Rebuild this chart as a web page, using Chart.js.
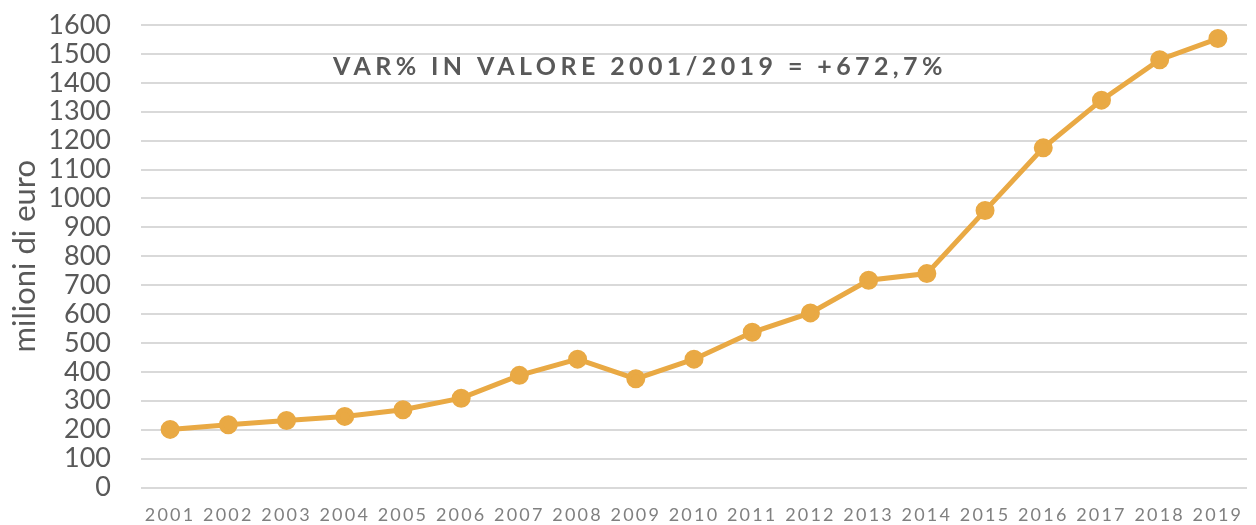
<!DOCTYPE html>
<html><head><meta charset="utf-8">
<script src="https://cdn.jsdelivr.net/npm/chart.js@4/dist/chart.umd.min.js"></script>
<style>
html,body{margin:0;padding:0;background:#fff;overflow:hidden;}
#wrap{width:1259px;height:525px;position:relative;}
</style></head>
<body><div id="wrap"><canvas id="c"></canvas></div>
<script>
const years = ['2001','2002','2003','2004','2005','2006','2007','2008','2009','2010','2011','2012','2013','2014','2015','2016','2017','2018','2019'];
const valori = [201,217,232,246,269,309,388,444,376,444,537,604,717,740,958,1175,1340,1480,1553];
const yTicks = {min:0, max:1600, step:100};
const yTitle = 'milioni di euro';
const annotationText = 'VAR% IN VALORE 2001/2019 = +672,7%';

const letterSpacingPlugin = {
  id:'ls',
  afterDatasetsDraw(chart){ chart.ctx.letterSpacing = '2.2px'; },
  afterDraw(chart){
    const ctx = chart.ctx;
    ctx.save();
    ctx.letterSpacing = '4.4px';
    ctx.font = 'bold 25px Lato';
    ctx.fillStyle = '#595959';
    ctx.textAlign = 'center';
    ctx.textBaseline = 'middle';
    const ca = chart.chartArea;
    ctx.fillText(annotationText, ca.left + 499, ca.top + 42);
    ctx.restore();
    ctx.letterSpacing = '0px';
  }
};

new Chart(document.getElementById('c'), {
  type:'line',
  data:{labels:years, datasets:[{
    data:valori, borderColor:'#E9A944', backgroundColor:'#E9A944',
    borderWidth:5, pointRadius:7, pointHoverRadius:7, tension:0
  }]},
  options:{
    responsive:true, maintainAspectRatio:false, animation:false,
    layout:{padding:{top:25,bottom:0,left:0,right:0}},
    plugins:{legend:{display:false}, tooltip:{enabled:false}},
    scales:{
      x:{offset:true, grid:{display:false, drawTicks:false}, border:{display:false},
         afterFit(s){ s.height = 37.5; },
         ticks:{z:1, color:'#808080', font:{family:'Lato', size:18}, padding:17, maxRotation:0, autoSkip:false}},
      y:{min:yTicks.min, max:yTicks.max,
         afterFit(s){ s.width = 141; s.paddingTop = 0; s.paddingBottom = 0; },
         grid:{color:'#d9d9d9', lineWidth:2, drawTicks:false}, border:{display:false},
         ticks:{stepSize:yTicks.step, autoSkip:false, callback:(v)=>String(v), color:'#595959', font:{family:'Lato', size:27, lineHeight:1.0}, padding:30},
         title:{display:true, text:yTitle, color:'#595959', font:{family:'Lato', size:31}, padding:{top:6,bottom:0}}}
    }
  },
  plugins:[letterSpacingPlugin]
});
</script></body></html>
